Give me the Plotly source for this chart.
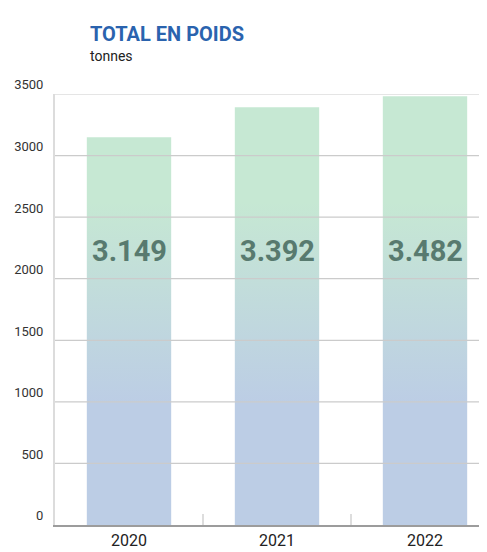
import plotly.graph_objects as go

years = ["2020", "2021", "2022"]
weights = [3149, 3392, 3482]
value_labels = ["3.149", "3.392", "3.482"]
y_ticks = [0, 500, 1000, 1500, 2000, 2500, 3000, 3500]

FONT = "Roboto, Liberation Sans Narrow, sans-serif"
BAR_WIDTH = 0.57
LABEL_Y = 2226

fig = go.Figure()

for i, (year, w) in enumerate(zip(years, weights)):
    x0, x1 = i - BAR_WIDTH / 2, i + BAR_WIDTH / 2
    fig.add_trace(go.Scatter(
        x=[x0, x0, x1, x1, x0], y=[0, w, w, 0, 0],
        fill="toself", mode="none", name=year,
        fillgradient=dict(type="vertical", start=0, stop=3500,
                          colorscale=[[0, "#bccde5"], [0.28, "#bccde5"],
                                      [0.75, "#c6e8d3"], [1, "#c6e8d3"]]),
        hoverinfo="skip", showlegend=False,
    ))
    fig.add_annotation(x=i, y=LABEL_Y, text="<b>%s</b>" % value_labels[i], showarrow=False,
                       font=dict(family=FONT, size=29, color="#587a6f"))

# gridlines drawn over the bars
for t in y_ticks[1:]:
    fig.add_shape(type="line", xref="paper", x0=0, x1=1, y0=t, y1=t, layer="above",
                  line=dict(color="#cbcbcb", width=1.2))

fig.add_annotation(xref="paper", yref="paper", x=0.075, y=1.14, xanchor="left", yanchor="middle",
                   text="<b>TOTAL EN POIDS</b>", showarrow=False,
                   font=dict(family=FONT, size=20, color="#2a63ae"))
fig.add_annotation(xref="paper", yref="paper", x=0.075, y=1.088, xanchor="left", yanchor="middle",
                   text="tonnes", showarrow=False,
                   font=dict(family=FONT, size=14, color="#222222"))

fig.update_layout(
    width=487, height=552,
    margin=dict(l=47, r=0, t=86, b=35),
    paper_bgcolor="white", plot_bgcolor="white",
    font=dict(family=FONT, color="#333333"),
    xaxis=dict(range=[-0.5, 2.473], tickvals=[0, 1, 2], ticktext=years, ticks="",
               showgrid=False, zeroline=False, showline=True, linecolor="#9c9c9c", linewidth=2,
               tickfont=dict(size=16, color="#222222"), ticklabelstandoff=0,
               minor=dict(tickvals=[0.5, 1.5], ticks="inside", ticklen=11, tickwidth=2,
                          tickcolor="#dddddd", showgrid=False)),
    yaxis=dict(range=[0, 3500], tickvals=y_ticks, ticks="", showgrid=False, zeroline=False,
               showline=True, linecolor="#dcdcdc", linewidth=2,
               ticklabelposition="outside top", ticklabelstandoff=7,
               tickfont=dict(size=13, color="#333333")),
)

fig.write_html("out.html")
